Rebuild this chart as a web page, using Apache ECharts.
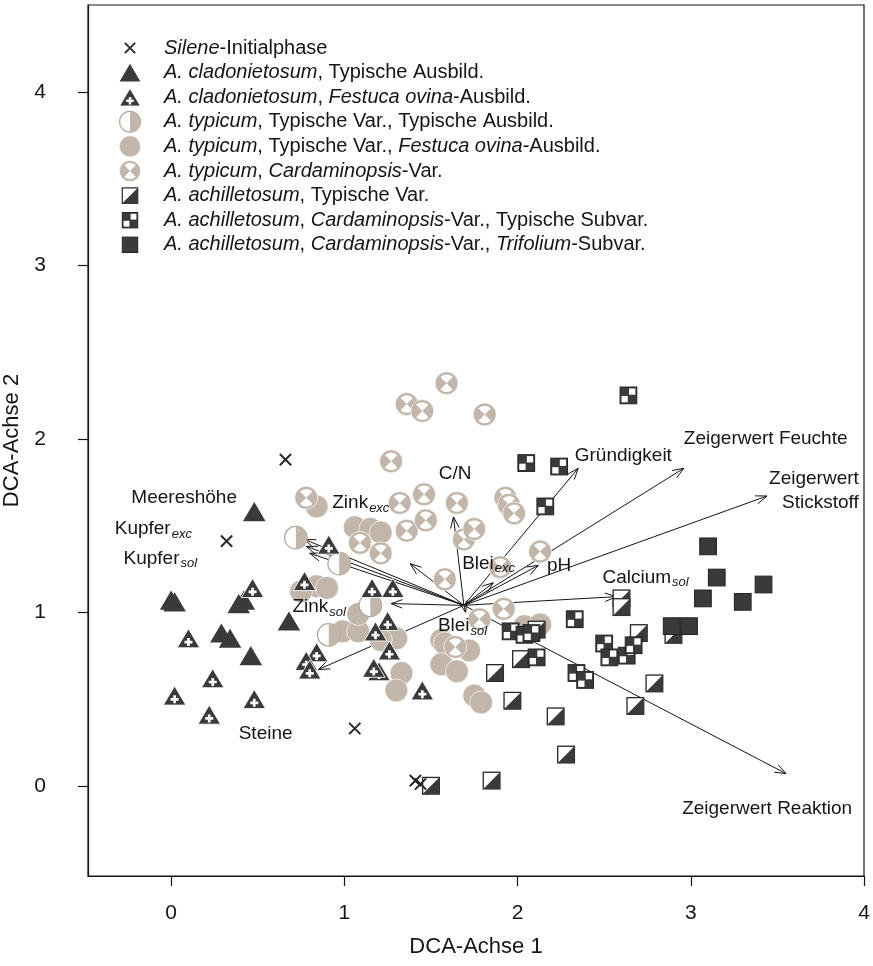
<!DOCTYPE html>
<html>
<head>
<meta charset="utf-8">
<script src="https://cdn.jsdelivr.net/npm/echarts@6/dist/echarts.min.js"></script>
<style>html,body{margin:0;padding:0;background:#fff}#c{width:873px;height:966px}</style>
</head>
<body>
<div id="c"></div>
<script>
// ---------------- DATA ----------------
const groupNames = [
  'Silene-Initialphase',
  'A. cladonietosum, Typische Ausbild.',
  'A. cladonietosum, Festuca ovina-Ausbild.',
  'A. typicum, Typische Var., Typische Ausbild.',
  'A. typicum, Typische Var., Festuca ovina-Ausbild.',
  'A. typicum, Cardaminopsis-Var.',
  'A. achilletosum, Typische Var.',
  'A. achilletosum, Cardaminopsis-Var., Typische Subvar.',
  'A. achilletosum, Cardaminopsis-Var., Trifolium-Subvar.'
];
const legendRich = [
  '{i|Silene}-Initialphase',
  '{i|A. cladonietosum}, Typische Ausbild.',
  '{i|A. cladonietosum}, {i|Festuca ovina}-Ausbild.',
  '{i|A. typicum}, Typische Var., Typische Ausbild.',
  '{i|A. typicum}, Typische Var., {i|Festuca ovina}-Ausbild.',
  '{i|A. typicum}, {i|Cardaminopsis}-Var.',
  '{i|A. achilletosum}, Typische Var.',
  '{i|A. achilletosum}, {i|Cardaminopsis}-Var., Typische Subvar.',
  '{i|A. achilletosum}, {i|Cardaminopsis}-Var., {i|Trifolium}-Subvar.'
];

const sileneX = [0.66, 0.32, 1.06, 1.41, 1.44];
const sileneY = [1.88, 1.41, 0.33, 0.03, 0.01];

const cladTypX = [0.48, 0.00, 0.02, 0.29, 0.34, 0.46, 0.68, 0.42, 0.39];
const cladTypY = [1.58, 1.07, 1.06, 0.88, 0.85, 0.75, 0.95, 1.07, 1.05];

const cladFesX = [0.47, 0.10, 0.24, 0.02, 0.22, 0.48, 0.91, 0.77, 1.16, 1.28, 1.25, 1.18, 1.26, 0.84, 0.78, 0.80, 1.20, 1.17, 1.45];
const cladFesY = [1.14, 0.85, 0.62, 0.52, 0.41, 0.50, 1.39, 1.18, 1.14, 1.14, 0.95, 0.89, 0.78, 0.77, 0.72, 0.67, 0.66, 0.68, 0.55];

const typTypX = [0.72, 0.97, 1.15, 0.91];
const typTypY = [1.43, 1.28, 1.04, 0.87];

const typFesX = [1.06, 1.15, 1.21, 0.84, 0.90, 0.75, 0.99, 1.08, 1.08, 1.30, 1.21, 1.33, 1.30, 1.56, 1.58, 1.56, 1.65, 1.72, 1.75, 1.79, 2.04, 2.13, 0.84];
const typFesY = [1.49, 1.48, 1.46, 1.15, 1.14, 1.12, 0.89, 0.89, 0.99, 0.85, 0.84, 0.65, 0.55, 0.84, 0.82, 0.70, 0.66, 0.78, 0.52, 0.48, 0.92, 0.93, 1.61];

const typCarX = [1.59, 1.36, 1.45, 1.81, 1.27, 0.78, 1.32, 1.46, 1.65, 1.36, 1.47, 1.09, 1.21, 1.58, 1.69, 1.75, 1.93, 1.95, 1.98, 2.13, 1.90, 1.92, 1.78, 1.64];
const typCarY = [2.32, 2.20, 2.16, 2.14, 1.87, 1.66, 1.63, 1.68, 1.63, 1.47, 1.53, 1.40, 1.34, 1.19, 1.42, 1.48, 1.66, 1.62, 1.57, 1.35, 1.26, 1.02, 0.96, 0.80];

const achTypX = [2.60, 2.60, 2.02, 1.87, 1.97, 2.22, 2.28, 1.85, 2.68, 2.11, 2.70, 2.79, 1.50, 2.90];
const achTypY = [1.08, 1.03, 0.73, 0.65, 0.49, 0.40, 0.18, 0.03, 0.46, 0.90, 0.88, 0.59, 0.00, 0.87];

const achCarTypX = [2.64, 2.05, 2.24, 2.16, 2.33, 1.96, 2.04, 2.08, 2.11, 2.34, 2.39, 2.50, 2.53, 2.63, 2.67];
const achCarTypY = [2.25, 1.86, 1.84, 1.61, 0.96, 0.89, 0.87, 0.88, 0.74, 0.65, 0.61, 0.82, 0.74, 0.75, 0.81];

const achCarTriX = [3.10, 3.15, 3.07, 3.30, 3.42, 2.89, 2.99];
const achCarTriY = [1.38, 1.20, 1.08, 1.06, 1.16, 0.92, 0.92];

// environmental vectors (biplot arrows)
const vecOrigin = [1.69, 1.04];
const vecNames = ['Gründigkeit', 'Zeigerwert Feuchte', 'Zeigerwert Stickstoff', 'pH', 'Blei exc', 'Calcium sol',
  'Zeigerwert Reaktion', 'C/N', 'Zink exc', 'Meereshöhe', 'Kupfer exc', 'Kupfer sol', 'Zink sol', 'Steine', 'Blei sol'];
const vecTipX = [2.35, 2.96, 3.44, 2.12, 1.86, 2.57, 3.55, 1.63, 1.38, 0.77, 0.78, 0.80, 1.27, 0.85, 1.70];
const vecTipY = [1.83, 1.83, 1.67, 1.27, 1.17, 1.09, 0.07, 1.55, 1.28, 1.42, 1.38, 1.34, 1.05, 0.67, 1.00];

// vector labels
const labelText = ['Meereshöhe', '{t|Kupfer}{s|exc}', '{t|Kupfer}{s|sol}', '{t|Zink}{s|exc}', '{t|Zink}{s|sol}',
  'Steine', 'C/N', '{t|Blei}{s|exc}', '{t|Blei}{s|sol}', 'pH', 'Gründigkeit', 'Zeigerwert Feuchte',
  'Zeigerwert\nStickstoff', '{t|Calcium}{s|sol}', 'Zeigerwert Reaktion'];
const labelX = [0.38, 0.12, 0.15, 0.93, 0.70, 0.39, 1.64, 1.68, 1.54, 2.17, 2.33, 2.96, 3.97, 2.49, 2.95];
const labelY = [1.66, 1.48, 1.31, 1.63, 1.03, 0.30, 1.80, 1.28, 0.92, 1.27, 1.90, 2.00, 1.70, 1.20, -0.13];
const labelAnchor = ['right', 'right', 'right', 'left', 'left', 'left', 'center', 'left', 'left', 'left', 'left', 'left', 'right', 'left', 'left'];

const tickValues = [0, 1, 2, 3, 4];

// ---------------- STYLE ----------------
const FONT = '"Liberation Sans", Arial, Helvetica, sans-serif';
const TAN = '#c2b6aa', TANE = '#b3a699', DARK = '#3a3a3a', INK = '#151515';

function img(svgBody) {
  const s = "<svg xmlns='http://www.w3.org/2000/svg' width='48' height='48' viewBox='0 0 24 24'>" + svgBody + "</svg>";
  return 'image://data:image/svg+xml;charset=utf-8,' + encodeURIComponent(s);
}
const symbols = [
  img("<path d='M6.8 6.8 L17.2 17.2 M17.2 6.8 L6.8 17.2' stroke='#262626' stroke-width='1.8' fill='none'/>"),
  img("<polygon points='12,3.2 22.4,20.8 1.6,20.8' fill='" + DARK + "'/>"),
  img("<polygon points='12,3.2 22.4,20.8 1.6,20.8' fill='" + DARK + "' stroke='#fff' stroke-width='0.8'/><path d='M12 11.8 V19.2 M8.3 15.5 H15.7' stroke='#fff' stroke-width='2.5' fill='none'/>"),
  img("<circle cx='12' cy='12' r='10.4' fill='#fff' stroke='" + TANE + "' stroke-width='1.2'/><path d='M12 1.6 A10.4 10.4 0 0 1 12 22.4 Z' fill='" + TAN + "'/>"),
  img("<circle cx='12' cy='12' r='10.6' fill='" + TAN + "' stroke='#fff' stroke-width='0.6'/>"),
  img("<circle cx='12' cy='12' r='10.6' fill='" + TAN + "' stroke='#fff' stroke-width='0.6'/><path d='M12 12 L6.3 6.3 A8 8 0 0 1 17.7 6.3 Z M12 12 L17.7 17.7 A8 8 0 0 1 6.3 17.7 Z' fill='#fff'/>"),
  img("<rect x='4.3' y='4.3' width='15.4' height='15.4' fill='#fff' stroke='#262626' stroke-width='1.2'/><polygon points='19.7,4.3 19.7,19.7 4.3,19.7' fill='" + DARK + "'/>"),
  img("<rect x='4.3' y='4.3' width='15.4' height='15.4' fill='" + DARK + "' stroke='#262626' stroke-width='1'/><rect x='12.6' y='5.6' width='5.8' height='5.8' fill='#fff'/><rect x='5.6' y='12.6' width='5.8' height='5.8' fill='#fff'/>"),
  img("<rect x='4.3' y='4.3' width='15.4' height='15.4' fill='" + DARK + "' stroke='#262626' stroke-width='1'/>")
];

const groupXs = [sileneX, cladTypX, cladFesX, typTypX, typFesX, typCarX, achTypX, achCarTypX, achCarTriX];
const groupYs = [sileneY, cladTypY, cladFesY, typTypY, typFesY, typCarY, achTypY, achCarTypY, achCarTriY];
const drawOrder = [4, 5, 3, 6, 7, 8, 1, 2, 0];

const series = [];
series.push({
  type: 'custom',
  name: 'vectors',
  silent: true,
  data: vecTipX.map((x, i) => [x, vecTipY[i]]),
  renderItem: function (params, api) {
    const p0 = api.coord(vecOrigin);
    const p1 = api.coord([api.value(0), api.value(1)]);
    const ang = Math.atan2(p1[1] - p0[1], p1[0] - p0[0]);
    const L = 12, A = 0.36;
    const h1 = [p1[0] - L * Math.cos(ang - A), p1[1] - L * Math.sin(ang - A)];
    const h2 = [p1[0] - L * Math.cos(ang + A), p1[1] - L * Math.sin(ang + A)];
    return {
      type: 'group',
      children: [
        { type: 'line', shape: { x1: p0[0], y1: p0[1], x2: p1[0], y2: p1[1] }, style: { stroke: INK, lineWidth: 1 } },
        { type: 'polyline', shape: { points: [h1, p1, h2] }, style: { stroke: INK, fill: null, lineWidth: 1 } }
      ]
    };
  }
});
drawOrder.forEach(g => {
  series.push({
    type: 'scatter',
    name: groupNames[g],
    symbol: symbols[g],
    symbolSize: 26,
    data: groupXs[g].map((x, i) => [x, groupYs[g][i]]),
    itemStyle: { opacity: 1 },
    emphasis: { disabled: true }
  });
});

const alignMap = { left: 'left', right: 'right', center: 'center' };
series.push({
  type: 'custom',
  name: 'labels',
  silent: true,
  z: 5,
  data: labelX.map((x, i) => [x, labelY[i], i]),
  renderItem: function (params, api) {
    const i = api.value(2);
    const p = api.coord([api.value(0), api.value(1)]);
    return {
      type: 'text',
      x: p[0], y: p[1],
      style: {
        text: labelText[i],
        align: alignMap[labelAnchor[i]],
        verticalAlign: 'middle',
        fill: INK,
        font: '19px ' + FONT,
        fontFamily: FONT,
        fontSize: 19,
        lineHeight: 24,
        rich: {
          t: { fontFamily: FONT, fontSize: 19, fill: INK },
          s: { fontFamily: FONT, fontSize: 13, fontStyle: 'italic', fill: INK, padding: [10, 0, 0, 1] }
        }
      }
    };
  }
});

const option = {
  animation: false,
  backgroundColor: '#fff',
  grid: { left: 88, right: 9, top: 5, bottom: 90, outerBoundsMode: 'none', containLabel: false,
          show: true, borderColor: INK, borderWidth: 1.2, backgroundColor: 'transparent' },
  legend: {
    orient: 'vertical',
    left: 96,
    top: 31,
    itemWidth: 58,
    itemHeight: 24,
    itemGap: 0.6,
    selectedMode: false,
    symbolKeepAspect: true,
    data: groupNames,
    formatter: function (name) { return legendRich[groupNames.indexOf(name)]; },
    textStyle: {
      fontFamily: FONT, fontSize: 20, color: INK,
      rich: { i: { fontFamily: FONT, fontSize: 20, fontStyle: 'italic', color: INK } }
    }
  },
  xAxis: {
    type: 'value', min: -0.48, max: 4.0,
    name: 'DCA-Achse 1', nameLocation: 'middle', nameGap: 60,
    nameTextStyle: { fontFamily: FONT, fontSize: 22, color: INK },
    axisLine: { show: true, onZero: false, lineStyle: { color: INK, width: 1.2 } },
    axisTick: { show: true, length: 10, lineStyle: { color: INK, width: 1.2 }, customValues: tickValues },
    axisLabel: { fontFamily: FONT, fontSize: 21, color: INK, margin: 27, customValues: tickValues },
    splitLine: { show: false }
  },
  yAxis: {
    type: 'value', min: -0.52, max: 4.5,
    name: 'DCA-Achse 2', nameLocation: 'middle', nameGap: 62, nameRotate: 90,
    nameTextStyle: { fontFamily: FONT, fontSize: 22, color: INK },
    axisLine: { show: true, onZero: false, lineStyle: { color: INK, width: 1.2 } },
    axisTick: { show: true, length: 10, lineStyle: { color: INK, width: 1.2 }, customValues: tickValues },
    axisLabel: { fontFamily: FONT, fontSize: 21, color: INK, margin: 42, customValues: tickValues },
    splitLine: { show: false }
  },
  series: series
};

const chart = echarts.init(document.getElementById('c'), null, { renderer: 'canvas' });
chart.setOption(option);
</script>
</body>
</html>
